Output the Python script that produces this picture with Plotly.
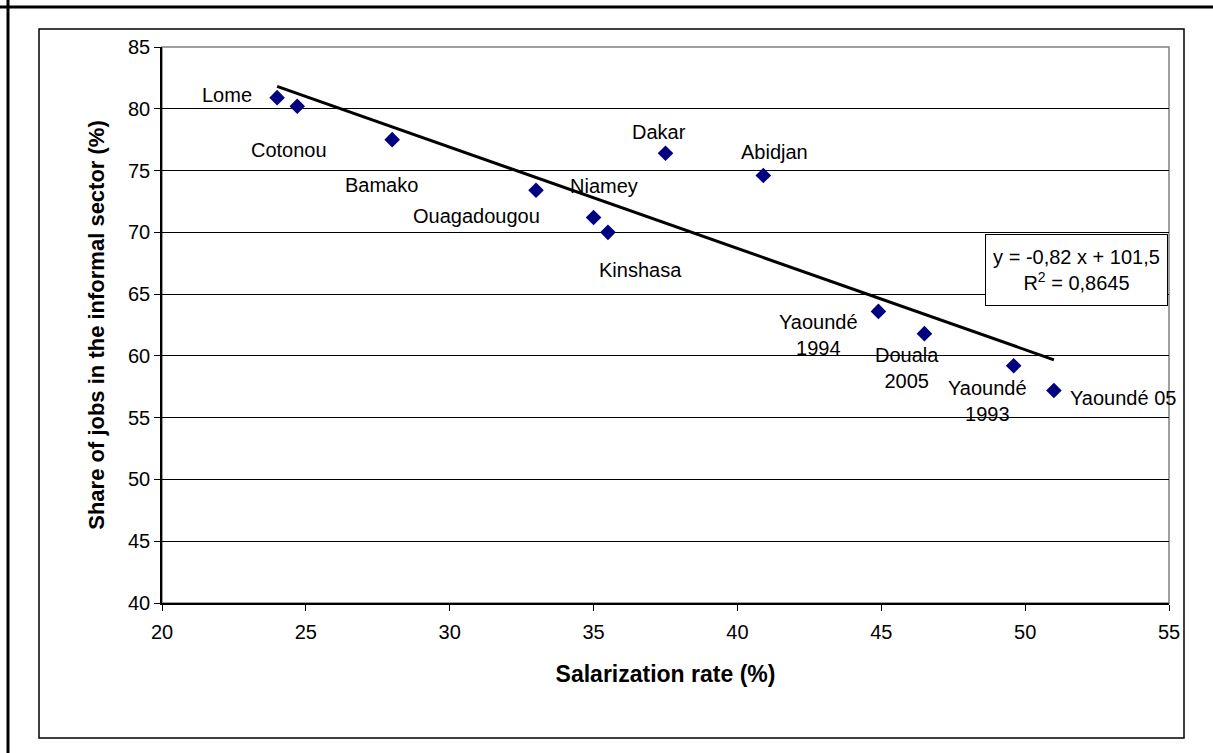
import plotly.graph_objects as go

# ---- data ----
cities = ["Lome", "Cotonou", "Bamako", "Ouagadougou", "Niamey", "Kinshasa",
          "Dakar", "Abidjan", "Yaoundé<br>1994", "Douala<br>2005",
          "Yaoundé<br>1993", "Yaoundé 05"]
salarization = [24.0, 24.7, 28.0, 33.0, 35.0, 35.5, 37.5, 40.9, 44.9, 46.5, 49.6, 51.0]
informal_share = [80.9, 80.2, 77.5, 73.4, 71.2, 70.0, 76.4, 74.6, 63.6, 61.8, 59.2, 57.2]

# label offsets (pixels) relative to each point: (xshift, yshift)
label_dx = [-50, -8, -11, -60, 10, 33, -7, 11, -60, -17, -26, 69]
label_dy = [3, -44, -45, -26, 32, -38, 21, 24, -24, -34, -35, -8]

trend_slope = -0.82
trend_intercept = 101.5
trend_x = [24.0, 51.0]
trend_y = [trend_slope * v + trend_intercept for v in trend_x]

x_ticks = [20, 25, 30, 35, 40, 45, 50, 55]
y_ticks = [40, 45, 50, 55, 60, 65, 70, 75, 80, 85]

equation_text = "y = -0,82 x + 101,5<br>R<sup>2</sup> = 0,8645"

# ---- layout geometry ----
W, H = 1213, 753
L, R, T, B = 162, 1169, 47, 603
pw, ph = R - L, B - T


def px(xp):
    return (xp - L) / pw


def py(yp):
    return (B - yp) / ph


FONT = "Liberation Sans, Arial, sans-serif"

fig = go.Figure()

fig.add_trace(go.Scatter(
    x=trend_x, y=trend_y, mode="lines",
    line=dict(color="black", width=3), hoverinfo="skip", showlegend=False))

fig.add_trace(go.Scatter(
    x=salarization, y=informal_share, mode="markers",
    marker=dict(symbol="diamond", size=12, color="#000080",
                line=dict(width=0)),
    showlegend=False, cliponaxis=False))

annotations = []
for c, xv, yv, dx, dy in zip(cities, salarization, informal_share, label_dx, label_dy):
    annotations.append(dict(
        x=xv, y=yv, xref="x", yref="y", text=c, showarrow=False,
        xshift=dx, yshift=dy, font=dict(size=20, color="black", family=FONT),
        align="center"))

annotations.append(dict(
    x=px(1076), y=py(270), xref="paper", yref="paper", text=equation_text,
    showarrow=False, xanchor="center", yanchor="middle", align="center",
    font=dict(size=20, color="black", family=FONT),
    bordercolor="black", borderwidth=1, bgcolor="white",
    width=175, height=64, borderpad=3))

shapes = [
    # plot area border (gray)
    dict(type="rect", xref="paper", yref="paper", x0=0, y0=0, x1=1, y1=1,
         line=dict(color="#808080", width=1.5), layer="below"),
    # inner chart box
    dict(type="rect", xref="paper", yref="paper", x0=px(39), y0=py(738),
         x1=px(1184), y1=py(29), line=dict(color="black", width=1.5), layer="below"),
    # outer thick frame (top and left)
    dict(type="line", xref="paper", yref="paper", x0=px(0), y0=py(7),
         x1=px(W), y1=py(7), line=dict(color="black", width=3)),
    dict(type="line", xref="paper", yref="paper", x0=px(8), y0=py(0),
         x1=px(8), y1=py(H), line=dict(color="black", width=3)),
]

fig.update_layout(
    width=W, height=H,
    margin=dict(l=L, r=W - R, t=T, b=H - B, pad=0),
    paper_bgcolor="white", plot_bgcolor="white",
    font=dict(family=FONT, size=20, color="black"),
    annotations=annotations, shapes=shapes,
    showlegend=False,
)

fig.update_xaxes(
    range=[20, 55], tickvals=x_ticks, ticktext=[str(v) for v in x_ticks],
    showgrid=False, zeroline=False,
    showline=True, linecolor="black", linewidth=1.5,
    ticks="outside", ticklen=6, tickcolor="black", tickwidth=1,
    ticklabelstandoff=4,
    tickfont=dict(size=20, family=FONT, color="black"),
    title=dict(text="<b>Salarization rate (%)</b>", standoff=24,
               font=dict(size=23, family=FONT, color="black")),
)

fig.update_yaxes(
    range=[40, 85], tickvals=y_ticks, ticktext=[str(v) for v in y_ticks],
    showgrid=True, gridcolor="black", gridwidth=1, zeroline=False,
    showline=True, linecolor="black", linewidth=1.5,
    ticks="outside", ticklen=6, tickcolor="black", tickwidth=1,
    tickfont=dict(size=20, family=FONT, color="black"),
    title=dict(text="<b>Share of jobs in the informal sector (%)</b>", standoff=17,
               font=dict(size=22, family=FONT, color="black")),
)

fig.write_html(
    "out.html",
    config={"displayModeBar": False},
    post_script="document.body.style.margin='0';document.body.style.overflow='hidden';",
)
